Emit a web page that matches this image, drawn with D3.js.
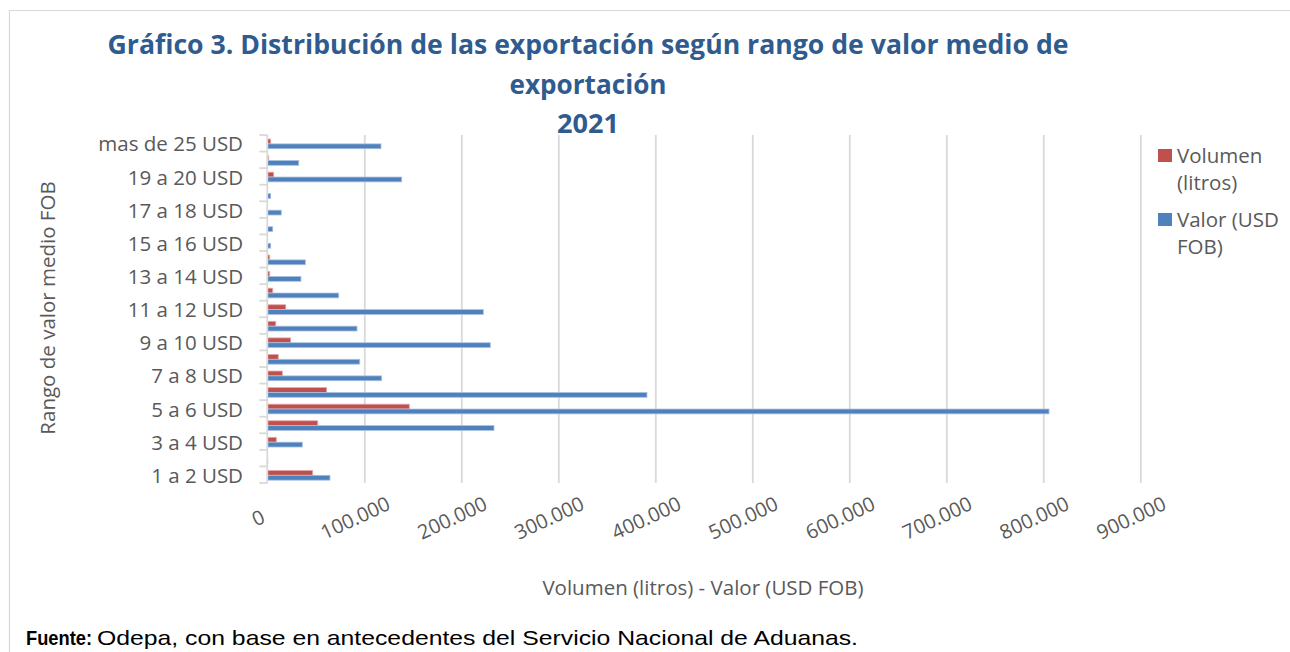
<!DOCTYPE html>
<html>
<head>
<meta charset="utf-8">
<script src="https://cdn.jsdelivr.net/npm/d3@7"></script>
<style>
  html, body { margin: 0; padding: 0; background: #ffffff; }
  svg { display: block; }
</style>
</head>
<body>
<svg id="chart" width="1290" height="652"></svg>
<script>
// ---------------- DATA ----------------
const categories = [
  "1 a 2 USD", "2 a 3 USD", "3 a 4 USD", "4 a 5 USD", "5 a 6 USD", "6 a 7 USD",
  "7 a 8 USD", "8 a 9 USD", "9 a 10 USD", "10 a 11 USD", "11 a 12 USD", "12 a 13 USD",
  "13 a 14 USD", "14 a 15 USD", "15 a 16 USD", "16 a 17 USD", "17 a 18 USD", "18 a 19 USD",
  "19 a 20 USD", "20 a 25 USD", "mas de 25 USD"
];
const volumenLitros = [
  46800, 0, 9300, 52000, 146400, 61200,
  15500, 11300, 24100, 8700, 19000, 5600,
  2500, 2500, 0, 0, 300, 0,
  6600, 1400, 3500
];
const valorUsdFob = [
  64600, 500, 36100, 233700, 805900, 391400,
  117900, 95300, 229900, 92500, 222700, 73600,
  34700, 39200, 3500, 5600, 14400, 3500,
  138600, 32400, 117200
];
const seriesNames = ["Volumen (litros)", "Valor (USD FOB)"];
const xTickValues = [0, 100000, 200000, 300000, 400000, 500000, 600000, 700000, 800000, 900000];
const titleLines = ["Gráfico 3. Distribución de las exportación según rango de valor medio de", "exportación", "2021"];
const xAxisTitle = "Volumen (litros) - Valor (USD FOB)";
const yAxisTitle = "Rango de valor medio FOB";
const sourceBold = "Fuente:";
const sourceText = "Odepa, con base en antecedentes del Servicio Nacional de Aduanas.";

// ---------------- CHART ----------------
const svg = d3.select("#chart");
const colors = { fill: ["#C0504D", "#4F81BD"], edge: ["#E3A9A7", "#A9C1E2"] };
const font = "'Open Sans', 'DejaVu Sans', sans-serif";
const textGray = "#595959";
const gridGray = "#D9D9D9";

svg.append("rect").attr("width", 1290).attr("height", 652).attr("fill", "#fff");

// outer chart border
svg.append("path")
  .attr("d", "M1291,10.5 H9.5 V653")
  .attr("fill", "none").attr("stroke", gridGray).attr("stroke-width", 1.2);

const plot = { left: 267.3, right: 1140.3, top: 135, bottom: 483 };

const x = d3.scaleLinear().domain([0, 900000]).range([plot.left, plot.right]);
const y = d3.scaleBand()
  .domain(categories.slice().reverse())
  .range([plot.top, plot.bottom])
  .paddingInner(0.415).paddingOuter(0.2075);
const ySub = d3.scaleBand().domain(seriesNames).range([0, y.bandwidth()]);

// gridlines
const grid = svg.append("g")
  .attr("transform", `translate(0,${plot.bottom})`)
  .call(d3.axisBottom(x).tickValues(xTickValues.slice(1)).tickSize(-(plot.bottom - plot.top)).tickFormat(""));
grid.select(".domain").remove();
grid.selectAll("line").attr("stroke", gridGray).attr("stroke-width", 1.8);

// bars
const rows = categories.map((c, i) => ({ cat: c, vals: [volumenLitros[i], valorUsdFob[i]] }));
const groups = svg.append("g").selectAll("g").data(rows).join("g")
  .attr("transform", d => `translate(0,${y(d.cat) + 0.6})`);
groups.selectAll("rect")
  .data(d => d.vals.map((v, k) => ({ v, k })))
  .join("rect")
  .attr("x", x(0))
  .attr("y", d => ySub(seriesNames[d.k]))
  .attr("width", d => Math.max(0, x(d.v) - x(0)))
  .attr("height", ySub.bandwidth())
  .attr("fill", d => colors.fill[d.k])
  .attr("stroke", d => colors.edge[d.k])
  .attr("stroke-width", 0.8);

// y axis: line + tick marks at band boundaries + labels every other category
const step = y.step();
const yAxisG = svg.append("g");
yAxisG.append("line")
  .attr("x1", plot.left).attr("x2", plot.left)
  .attr("y1", plot.top).attr("y2", plot.bottom)
  .attr("stroke", gridGray).attr("stroke-width", 1.8);
yAxisG.selectAll("line.tk")
  .data(d3.range(categories.length + 1))
  .join("line").attr("class", "tk")
  .attr("x1", plot.left - 8).attr("x2", plot.left)
  .attr("y1", i => plot.top + i * step).attr("y2", i => plot.top + i * step)
  .attr("stroke", gridGray).attr("stroke-width", 1.8);
yAxisG.selectAll("text")
  .data(categories.filter((c, i) => i % 2 === 0))
  .join("text")
  .attr("x", 243)
  .attr("y", c => y(c) + y.bandwidth() / 2 + 0.6)
  .attr("dy", "0.37em")
  .attr("text-anchor", "end")
  .attr("font-family", font).attr("font-size", 20.5)
  .attr("fill", textGray)
  .text(c => c);

// x tick labels (rotated)
const fmt = d3.formatLocale({ decimal: ",", thousands: ".", grouping: [3], currency: ["$", ""] }).format(",");
svg.append("g").selectAll("text")
  .data(xTickValues)
  .join("text")
  .attr("transform", v => `translate(${x(v) - 9},${518}) rotate(-25)`)
  .attr("text-anchor", "middle")
  .attr("dy", "0.35em")
  .attr("font-family", font).attr("font-size", 20)
  .attr("fill", textGray)
  .text(v => fmt(v));

// axis titles
svg.append("text")
  .attr("x", 703).attr("y", 595)
  .attr("text-anchor", "middle")
  .attr("font-family", font).attr("font-size", 20.5)
  .attr("fill", textGray)
  .text(xAxisTitle);
svg.append("text")
  .attr("transform", "translate(55,308) rotate(-90)")
  .attr("text-anchor", "middle")
  .attr("font-family", font).attr("font-size", 20.5)
  .attr("fill", textGray)
  .text(yAxisTitle);

// title
const titleY = [54, 94, 133];
const titleW = [961, 157, 62];
svg.append("g").selectAll("text")
  .data(titleLines)
  .join("text")
  .attr("x", 588).attr("y", (d, i) => titleY[i])
  .attr("text-anchor", "middle")
  .attr("font-family", font).attr("font-weight", 700).attr("font-size", 26)
  .attr("fill", "#2F5B8F")
  .attr("textLength", (d, i) => titleW[i])
  .attr("lengthAdjust", "spacingAndGlyphs")
  .text(d => d);

// legend
const legendLines = [["Volumen", "(litros)"], ["Valor (USD", "FOB)"]];
const legendY = [163, 227];
const lg = svg.append("g");
legendLines.forEach((lines, k) => {
  lg.append("rect")
    .attr("x", 1158).attr("y", legendY[k] - 14)
    .attr("width", 14).attr("height", 13)
    .attr("fill", colors.fill[k]);
  lines.forEach((t, j) => {
    lg.append("text")
      .attr("x", 1177).attr("y", legendY[k] + j * 27)
      .attr("font-family", font).attr("font-size", 20.5)
      .attr("fill", textGray)
      .text(t);
  });
});

// source note
svg.append("text")
  .attr("x", 26).attr("y", 645)
  .attr("font-family", "'Liberation Sans', Arial, sans-serif")
  .attr("font-weight", 700).attr("font-size", 21)
  .attr("fill", "#000")
  .attr("textLength", 66).attr("lengthAdjust", "spacingAndGlyphs")
  .text(sourceBold);
svg.append("text")
  .attr("x", 97).attr("y", 645)
  .attr("font-family", "'Liberation Sans', Arial, sans-serif")
  .attr("font-size", 21)
  .attr("fill", "#000")
  .attr("textLength", 761).attr("lengthAdjust", "spacingAndGlyphs")
  .text(sourceText);
</script>
</body>
</html>
